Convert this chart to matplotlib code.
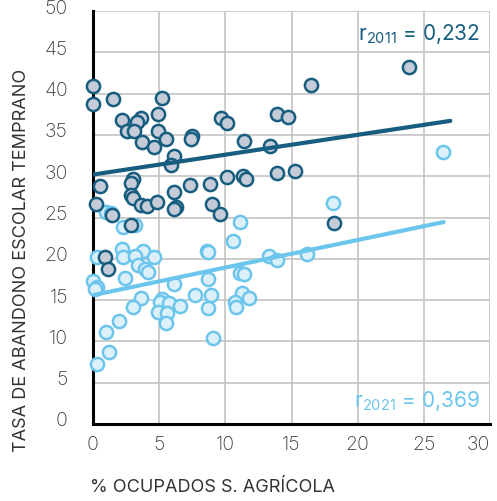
import matplotlib
matplotlib.use("Agg")
import matplotlib.pyplot as plt
import matplotlib.transforms as mtransforms

plt.rcParams['font.family'] = ['Inter', 'DejaVu Sans']

# 2011 (azul oscuro)
x2011 = [0.0, 0.0, 1.5, 5.2, 2.2, 3.6, 3.35, 4.9, 2.6, 3.1, 4.9, 3.7, 4.6, 5.5, 7.5, 7.4,
         9.7, 10.1, 11.4, 13.4, 13.9, 14.7, 6.1, 5.9, 0.5, 3.05, 2.9, 2.9, 3.05, 0.2, 3.6,
         4.1, 4.8, 6.1, 6.3, 6.15, 7.3, 8.85, 10.1, 11.3, 11.55, 13.9, 15.3, 9.0, 9.6, 1.4,
         2.9, 0.9, 1.15, 16.5, 23.9, 18.2]
y2011 = [40.9, 38.7, 39.3, 39.5, 36.8, 37.0, 36.6, 37.5, 35.5, 35.5, 35.5, 34.1, 33.5, 34.5,
         34.9, 34.5, 37.0, 36.5, 34.3, 33.7, 37.5, 37.2, 32.4, 31.4, 28.8, 29.7, 29.2, 27.7,
         27.4, 26.6, 26.5, 26.4, 26.9, 28.1, 26.3, 26.0, 28.9, 29.1, 29.9, 30.0, 29.7, 30.4,
         30.6, 26.6, 25.4, 25.3, 24.1, 20.2, 18.8, 41.1, 43.2, 24.3]

# 2021 (azul claro)
x2021 = [1.0, 1.35, 2.3, 3.2, 11.1, 10.6, 2.2, 2.25, 3.8, 3.2, 4.6, 3.4, 3.9, 4.15, 0.3, 0.0,
         0.3, 0.15, 2.4, 8.6, 8.7, 8.7, 6.15, 11.1, 11.4, 13.3, 13.9, 3.6, 3.0, 5.2, 5.05,
         5.75, 6.6, 4.9, 5.6, 5.5, 7.7, 8.9, 8.7, 11.25, 10.7, 10.8, 11.8, 2.0, 1.0, 9.1,
         1.2, 0.3, 18.1, 26.45, 16.2]
y2021 = [25.7, 25.5, 23.9, 24.1, 24.5, 22.1, 21.2, 20.2, 21.0, 20.3, 20.2, 19.2, 18.8, 18.4,
         20.2, 17.3, 16.6, 16.3, 17.7, 21.0, 20.8, 17.6, 16.9, 18.3, 18.2, 20.4, 19.8, 15.2,
         14.2, 15.1, 14.8, 14.6, 14.3, 13.6, 13.4, 12.2, 15.6, 15.6, 14.0, 15.8, 14.8, 14.2,
         15.3, 12.5, 11.1, 10.4, 8.7, 7.3, 26.8, 32.9, 20.6]

# rectas de tendencia
trend_x2011 = [0, 27]
trend_y2011 = [30.2, 36.7]
trend_x2021 = [0, 26.5]
trend_y2021 = [15.6, 24.45]

oscuro = "#175d7f"
claro = "#6cc5ec"

fig = plt.figure(figsize=(4.97, 5.01), dpi=100)
ax = fig.add_axes([0.1871, 0.1537, 0.7989, 0.8243])

ax.plot(x2021, y2021, 'o', markersize=9.5, markeredgewidth=1.8, clip_on=False,
        markerfacecolor="#dcf0fa", markeredgecolor=claro, zorder=3)
ax.plot(trend_x2021, trend_y2021, color=claro, linewidth=3, solid_capstyle='round', zorder=4)
ax.plot(x2011, y2011, 'o', markersize=9.5, markeredgewidth=1.8, clip_on=False,
        markerfacecolor="#c6cbd8", markeredgecolor=oscuro, zorder=5)
ax.plot(trend_x2011, trend_y2011, color=oscuro, linewidth=3, solid_capstyle='round', zorder=6)

ax.set_xlim(0, 30)
ax.set_ylim(0, 50)
ax.set_xticks(range(0, 31, 5))
ax.set_yticks(range(0, 51, 5))
ax.grid(True, color="#c4c4c4", linewidth=1.2)
ax.set_axisbelow(True)
for s in ['top', 'right']:
    ax.spines[s].set_visible(False)
for s in ['left', 'bottom']:
    ax.spines[s].set_linewidth(2.2)
    ax.spines[s].set_color("black")
    ax.spines[s].set_zorder(2)
ax.tick_params(length=0, labelsize=14, labelcolor="#3a3a3a")
ax.tick_params(axis='y', pad=18)
ax.tick_params(axis='x', pad=9)

# etiquetas del eje y algo por encima de la linea de rejilla
subir = mtransforms.ScaledTranslation(0, 0.045, fig.dpi_scale_trans)
for lab in ax.get_yticklabels():
    lab.set_transform(lab.get_transform() + subir)
    lab.set_fontweight('light')
for lab in ax.get_xticklabels():
    lab.set_fontweight('light')
ax.get_xticklabels()[-1].set_horizontalalignment('right')

fig.text(0.044, 0.48, "TASA DE ABANDONO ESCOLAR TEMPRANO", rotation=90,
         ha='center', va='center', fontsize=13, color="#333333")
fig.text(0.181, 0.026, "% OCUPADOS S. AGRÍCOLA", ha='left', va='center',
         fontsize=13, color="#333333")

ax.text(0.975, 0.945, r"r$_{\mathregular{2011}}$ = 0,232", transform=ax.transAxes,
        ha='right', va='center', fontsize=15, color=oscuro)
ax.text(0.975, 0.055, r"r$_{\mathregular{2021}}$ = 0,369", transform=ax.transAxes,
        ha='right', va='center', fontsize=15, color=claro)

fig.savefig("out.png", dpi=100)
